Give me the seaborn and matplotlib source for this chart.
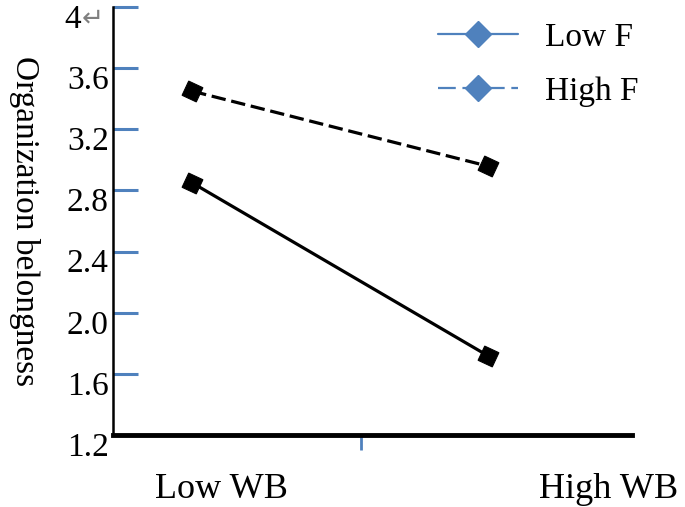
import pandas as pd
import matplotlib.pyplot as plt
import seaborn as sns
from matplotlib.lines import Line2D
from matplotlib.transforms import ScaledTranslation

# values
wb_levels = ["Low WB", "High WB"]
low_f = [2.85, 1.72]
high_f = [3.45, 2.96]
series = ["Low F", "High F"]
y_ticks = [1.2, 1.6, 2.0, 2.4, 2.8, 3.2, 3.6, 4.0]
y_tick_labels = ["1.2", "1.6", "2.0", "2.4", "2.8", "3.2", "3.6", "4"]

df = pd.DataFrame({
    "WB": [0, 1] * 2,
    "belong": low_f + high_f,
    "F": [series[0]] * 2 + [series[1]] * 2,
})

sns.set_style("white")
plt.rcParams["font.family"] = ["Liberation Serif", "DejaVu Serif"]
plt.rcParams["text.color"] = "black"

blue = "#4F81BD"
fig, ax = plt.subplots(figsize=(6.85, 5.07), dpi=100)
fig.subplots_adjust(left=0.165, right=0.923, top=0.986, bottom=0.142)

sns.lineplot(data=df, x="WB", y="belong", hue="F", style="F",
             palette=["black", "black"], dashes={"Low F": "", "High F": (4.5, 1.8)},
             markers={"Low F": (4, 0, 20), "High F": (4, 0, 20)},
             markersize=16, linewidth=2.3, markeredgecolor="black",
             legend=False, ax=ax)

ax.set_xlim(-0.268, 1.49)
ax.set_ylim(1.2, 4.0)
ax.set_xlabel("")
ax.set_ylabel("Organization belongness", rotation=-90, fontsize=24, color="black")
ax.yaxis.set_label_coords(-0.17, 0.50)
ax.yaxis.label.set_va("center")

ax.set_yticks(y_ticks)
ax.set_yticklabels(y_tick_labels, fontsize=24)
ax.tick_params(axis="y", direction="in", length=18, width=2.2, color=blue,
               labelcolor="black", pad=3, left=True)
# labels sit a little below their ticks in the reference
down = ScaledTranslation(0, -6.5 / 72, fig.dpi_scale_trans)
for lab in ax.get_yticklabels():
    lab.set_transform(lab.get_transform() + down)
top_lab = ax.get_yticklabels()[-1]
top_lab.set_transform(top_lab.get_transform() + ScaledTranslation(-20 / 72, 0, fig.dpi_scale_trans))
ax.annotate("\u21b5", xy=(0, 4.0), xycoords=("axes fraction", "data"),
            xytext=(-20, -11), textcoords="offset pixels",
            fontsize=19, color="#808080", ha="center", va="center", family="DejaVu Sans")

# category labels sit off the points in the reference
ax.set_xticks([0.10, 1.41])
ax.set_xticklabels(wb_levels, fontsize=26)
ax.tick_params(axis="x", length=0, pad=27, labelcolor="black")
ax.set_xticks([0.57], minor=True)
ax.tick_params(axis="x", which="minor", direction="out", length=11, width=2, color=blue, bottom=True)

for side in ["top", "right"]:
    ax.spines[side].set_visible(False)
ax.spines["left"].set_linewidth(1.8)
ax.spines["left"].set_color("black")
ax.spines["bottom"].set_linewidth(3.5)
ax.spines["bottom"].set_color("black")

handles = [
    Line2D([], [], color=blue, lw=1.6, marker="D", markersize=13, linestyle="-"),
    Line2D([], [], color=blue, lw=1.6, marker="D", markersize=13, linestyle=(0, (8, 3))),
]
ax.legend(handles, series, loc="upper right", bbox_to_anchor=(0.976, 1.015),
          bbox_transform=fig.transFigure, frameon=False, fontsize=24,
          handlelength=2.4, labelspacing=0.7, handletextpad=0.8)

fig.savefig("out.png", dpi=100)
